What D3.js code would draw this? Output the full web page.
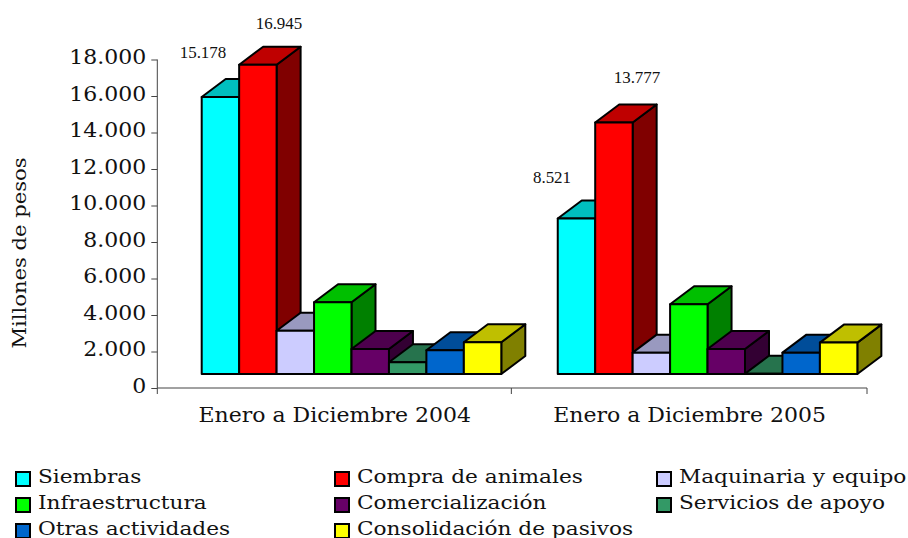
<!DOCTYPE html>
<html><head><meta charset="utf-8">
<script src="https://cdn.jsdelivr.net/npm/d3@7"></script>
<style>html,body{margin:0;padding:0;background:#fff}svg{display:block}
.s{font-family:"DejaVu Serif",serif;fill:#111}
.v{font-family:"Liberation Serif",serif;fill:#111}</style></head><body>
<script>
const periods = ["Enero a Diciembre 2004","Enero a Diciembre 2005"];
const categories = ["Siembras","Compra de animales","Maquinaria y equipo","Infraestructura","Comercialización","Servicios de apoyo","Otras actividades","Consolidación de pasivos"];
const colors = ["#00ffff","#ff0000","#ccccff","#00ff00","#660066","#339966","#0066cc","#ffff00"];
const values2004 = [15178,16945,2370,3930,1370,640,1300,1740];
const values2005 = [8521,13777,1170,3820,1370,10,1170,1720];
const valueLabels2004 = ["15.178","16.945"];
const valueLabels2005 = ["8.521","13.777"];
const yTicks = [0,2000,4000,6000,8000,10000,12000,14000,16000,18000];
const fmt = d => d3.format(",")(d).replace(/,/g,".");

const W=908,H=538;
const svg=d3.select("body").append("svg").attr("width",W).attr("height",H);
const y=d3.scaleLinear().domain([0,18000]).range([388,59.5]);
const x=d3.scaleBand().domain(periods).range([157.3,867]);
const inner=d3.scaleBand().domain(d3.range(8)).range([44.4,344]);
const floorLift=14, dx=24, dy=18;
const groupShift=[0,1.2];
const labelPos=[[[203,54],[279,25]],[[552,179],[637,79]]];

// stretch text horizontally to match the wide face of the original
const stretch=(sel,k)=>sel.each(function(){
  const len=this.getComputedTextLength();
  d3.select(this).attr("textLength",len*k).attr("lengthAdjust","spacingAndGlyphs");
});

// axes
const gy=svg.append("g").attr("transform","translate(157.3,0)").call(d3.axisLeft(y).tickValues(yTicks).tickFormat(fmt).tickSize(6).tickPadding(5));
gy.select(".domain").attr("d","M0,59.5V388");
const gx=svg.append("g").attr("transform","translate(0,388)").call(d3.axisBottom(x).tickFormat(d=>d).tickSize(0).tickPadding(20));
gx.select(".domain").attr("d","M157.3,0H867");
[157.3,x(periods[1])-0.8,867].forEach(px=>gx.append("line").attr("x1",px).attr("x2",px).attr("y1",0).attr("y2",6).attr("class","xt"));
svg.selectAll(".domain,.tick line,.xt").attr("stroke","#444").attr("stroke-width",1);
gy.selectAll(".tick text").attr("class","s").attr("font-size",20).attr("fill","#111").attr("dy","0.2em").call(stretch,1.1);
gx.selectAll(".tick text").attr("class","s").attr("font-size",20).attr("fill","#111").call(stretch,1.1);
svg.append("text").attr("class","s").attr("font-size",19)
  .attr("transform","translate(21,253) rotate(-90)").attr("text-anchor","middle").attr("dominant-baseline","middle").text("Millones de pesos").call(stretch,1.11);

// bars
[[values2004,valueLabels2004],[values2005,valueLabels2005]].forEach(([vals,labels],pi)=>{
  const g=svg.append("g").attr("transform",`translate(${x(periods[pi])+groupShift[pi]},${-floorLift})`);
  vals.forEach((v,i)=>{
    const x0=inner(i),w=inner.bandwidth(),t=y(v),b=y(0),c=d3.color(colors[i]);
    const shade=k=>d3.rgb(c.r*k,c.g*k,c.b*k).formatHex();
    const st={stroke:"#000","stroke-width":2,"stroke-linejoin":"round"};
    const face=(pts,fill)=>{const p=g.append("polygon").attr("points",pts.map(q=>q.join(",")).join(" ")).attr("fill",fill);Object.entries(st).forEach(([a,b])=>p.attr(a,b));};
    face([[x0+w,t],[x0+w+dx,t-dy],[x0+w+dx,b-dy],[x0+w,b]],shade(.5));
    face([[x0,t],[x0+dx,t-dy],[x0+w+dx,t-dy],[x0+w,t]],shade(.75));
    face([[x0,t],[x0+w,t],[x0+w,b],[x0,b]],colors[i]);
  });
  labels.forEach((l,i)=>{
    svg.append("text").attr("class","v").attr("font-size",16).attr("text-anchor","middle")
      .attr("dominant-baseline","middle").attr("x",labelPos[pi][i][0]).attr("y",labelPos[pi][i][1]).text(l).call(stretch,1.06);
  });
});

// legend
const cols=[16,335,657],rows=[477,503,529];
categories.forEach((c,i)=>{
  const lx=cols[i%3],ly=rows[Math.floor(i/3)];
  svg.append("rect").attr("x",lx).attr("y",ly-5).attr("width",14).attr("height",14).attr("fill",colors[i]).attr("stroke","#000").attr("stroke-width",2);
  svg.append("text").attr("class","s").attr("font-size",19).attr("x",lx+22).attr("y",ly+6).text(c).call(stretch,1.14);
});
</script></body></html>
